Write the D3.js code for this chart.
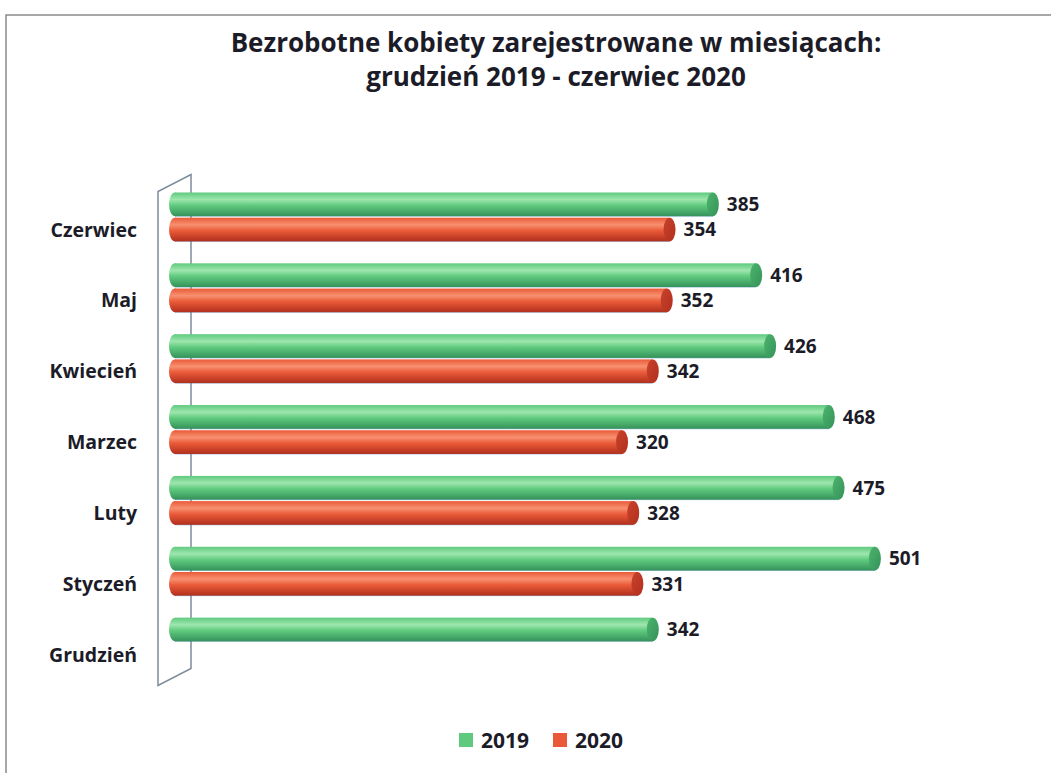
<!DOCTYPE html>
<html>
<head>
<meta charset="utf-8">
<style>
  body { margin: 0; background: #fff; }
  svg { display: block; font-family: "Open Sans", Lato, sans-serif; }
</style>
</head>
<body>
<div id="chart"></div>
<script src="https://d3js.org/d3.v7.min.js"></script>
<script>
// data
categories = ["Czerwiec", "Maj", "Kwiecień", "Marzec", "Luty", "Styczeń", "Grudzień"]
series = ["2019", "2020"]
values2019 = [385, 416, 426, 468, 475, 501, 342]
values2020 = [354, 352, 342, 320, 328, 331, null]
titleLines = ["Bezrobotne kobiety zarejestrowane w miesiącach:", "grudzień 2019 - czerwiec 2020"]

width = 1051
height = 773

colors = {
  "2019": { light: "#9ee6ae", mid: "#5fca7e", dark: "#35925a", cap: "#4cb46c" },
  "2020": { light: "#f79070", mid: "#ea5a38", dark: "#b02f1d", cap: "#c9432b" }
}

rows = []
categories.forEach((c, i) => {
  rows.push({ cat: c, key: "2019", value: values2019[i] })
  if (values2020[i] != null) rows.push({ cat: c, key: "2020", value: values2020[i] })
})

svg = d3.select("#chart").append("svg")
  .attr("width", width)
  .attr("height", height)

// frame of the scanned page
svg.append("path")
  .attr("d", "M6,773 V15 H1051")
  .attr("fill", "none")
  .attr("stroke", "#8a8a8a")
  .attr("stroke-width", 1.5)

defs = svg.append("defs")
series.forEach(s => {
  const g = defs.append("linearGradient")
    .attr("id", "grad" + s)
    .attr("x1", 0).attr("y1", 0).attr("x2", 0).attr("y2", 1)
  g.append("stop").attr("offset", "0%").attr("stop-color", colors[s].mid)
  g.append("stop").attr("offset", "30%").attr("stop-color", colors[s].light)
  g.append("stop").attr("offset", "55%").attr("stop-color", colors[s].mid)
  g.append("stop").attr("offset", "100%").attr("stop-color", colors[s].dark)
  const c = defs.append("linearGradient")
    .attr("id", "cap" + s)
    .attr("x1", 0).attr("y1", 0).attr("x2", 1).attr("y2", 1)
  c.append("stop").attr("offset", "0%").attr("stop-color", colors[s].cap)
  c.append("stop").attr("offset", "100%").attr("stop-color", colors[s].dark)
})

x = d3.scaleLinear()
  .domain([0, 600])
  .range([175, 175 + 600 * 1.397])

y0 = d3.scaleBand()
  .domain(categories)
  .range([181.5, 677.5])
  .paddingInner(0.31)
  .paddingOuter(0.155)

y1 = d3.scaleBand()
  .domain(series)
  .range([0, y0.bandwidth()])
  .paddingInner(0.06)

h = y1.bandwidth()

// side wall (3D)
wallTop = y0.range()[0] + 10
wallBot = y0.range()[1] + 8
depthX = 33, depthY = -17
wx = x(0) - 17
svg.append("path")
  .attr("d", `M${wx},${wallBot} V${wallTop} L${wx + depthX},${wallTop + depthY} V${wallBot + depthY} Z`)
  .attr("fill", "none")
  .attr("stroke", "#7d8c9c")
  .attr("stroke-width", 1.5)

bars = svg.append("g")
  .selectAll("g")
  .data(rows)
  .join("g")
  .attr("transform", d => `translate(0,${y0(d.cat) + y1(d.key)})`)

// bottom shadow
bars.append("rect")
  .attr("x", x(0))
  .attr("y", h - 2)
  .attr("width", d => x(d.value) - x(0))
  .attr("height", 2.5)
  .attr("fill", "#3a7fb8")
  .attr("opacity", 0.5)

bars.append("ellipse")
  .attr("cx", x(0))
  .attr("cy", h / 2)
  .attr("rx", 6)
  .attr("ry", h / 2)
  .attr("fill", d => `url(#grad${d.key})`)

bars.append("rect")
  .attr("x", x(0))
  .attr("y", 0)
  .attr("width", d => x(d.value) - x(0))
  .attr("height", h)
  .attr("fill", d => `url(#grad${d.key})`)

bars.append("ellipse")
  .attr("cx", d => x(d.value))
  .attr("cy", h / 2)
  .attr("rx", 6)
  .attr("ry", h / 2)
  .attr("fill", d => `url(#cap${d.key})`)

// value labels
bars.append("text")
  .attr("x", d => x(d.value) + 14)
  .attr("y", h / 2)
  .attr("dy", "0.36em")
  .attr("font-size", 19)
  .attr("font-weight", "bold")
  .attr("fill", "#1c1c28")
  .text(d => d.value)

// category labels
svg.append("g")
  .selectAll("text")
  .data(categories)
  .join("text")
  .attr("x", 137)
  .attr("y", d => y0(d) + y1("2020") + h / 2)
  .attr("dy", "0.36em")
  .attr("text-anchor", "end")
  .attr("font-size", 19.5)
  .attr("font-weight", "bold")
  .attr("fill", "#1c1c28")
  .text(d => d)

// title
svg.append("g")
  .selectAll("text")
  .data(titleLines)
  .join("text")
  .attr("x", 556)
  .attr("y", (d, i) => 52 + i * 34)
  .attr("text-anchor", "middle")
  .attr("font-size", 26)
  .attr("font-weight", "bold")
  .attr("fill", "#1c1c28")
  .text(d => d)

// legend
legend = svg.append("g")
  .selectAll("g")
  .data(series)
  .join("g")
  .attr("transform", (d, i) => `translate(${459 + i * 94},740)`)

legend.append("rect")
  .attr("x", 0)
  .attr("y", -7)
  .attr("width", 14)
  .attr("height", 14)
  .attr("fill", d => colors[d].mid)

legend.append("text")
  .attr("x", 22)
  .attr("y", 0)
  .attr("dy", "0.36em")
  .attr("font-size", 21)
  .attr("font-weight", "bold")
  .attr("fill", "#1c1c28")
  .text(d => d)
</script>
</body>
</html>
